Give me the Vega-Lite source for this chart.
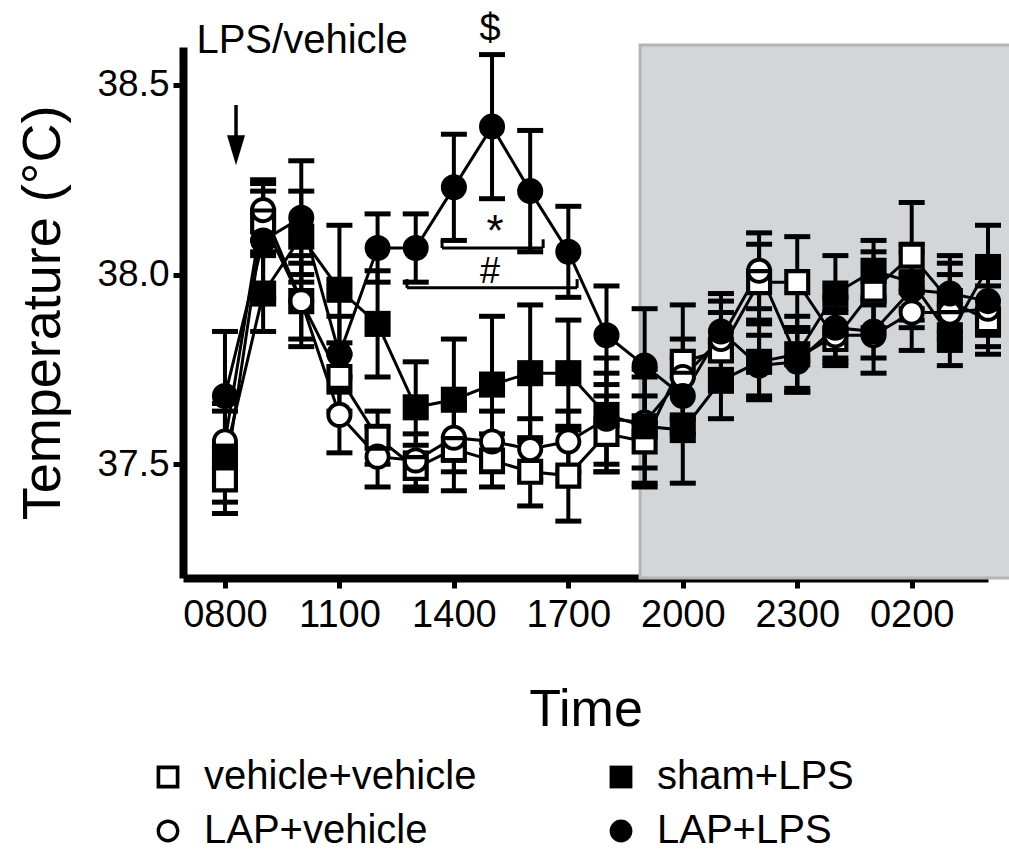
{
  "$schema": "https://vega.github.io/schema/vega-lite/v6.json",
  "width": 805,
  "height": 531,
  "autosize": {"type": "none"},
  "padding": {"left": 183, "top": 47, "right": 21, "bottom": 273},
  "background": "white",
  "config": {
    "view": {"stroke": null},
    "font": "Liberation Sans",
    "axis": {"domainWidth": 8, "domainColor": "black", "tickColor": "black", "tickWidth": 5, "tickSize": 10, "labelColor": "black", "titleColor": "black", "labelFont": "Liberation Sans", "titleFont": "Liberation Sans", "titleFontWeight": "normal", "grid": false, "zindex": 1}
  },
  "datasets": {
    "main": [
      {"s": "vehicle+vehicle", "h": 0, "m": 37.46, "lo": 37.37, "hi": 37.55},
      {"s": "vehicle+vehicle", "h": 1, "m": 38.14, "lo": 38.06, "hi": 38.22},
      {"s": "vehicle+vehicle", "h": 2, "m": 37.93, "lo": 37.81, "hi": 38.05},
      {"s": "vehicle+vehicle", "h": 3, "m": 37.73, "lo": 37.64, "hi": 37.82},
      {"s": "vehicle+vehicle", "h": 4, "m": 37.57, "lo": 37.50, "hi": 37.64},
      {"s": "vehicle+vehicle", "h": 5, "m": 37.49, "lo": 37.43, "hi": 37.55},
      {"s": "vehicle+vehicle", "h": 6, "m": 37.54, "lo": 37.43, "hi": 37.65},
      {"s": "vehicle+vehicle", "h": 7, "m": 37.51, "lo": 37.44, "hi": 37.58},
      {"s": "vehicle+vehicle", "h": 8, "m": 37.48, "lo": 37.39, "hi": 37.57},
      {"s": "vehicle+vehicle", "h": 9, "m": 37.47, "lo": 37.35, "hi": 37.59},
      {"s": "vehicle+vehicle", "h": 10, "m": 37.58, "lo": 37.48, "hi": 37.68},
      {"s": "vehicle+vehicle", "h": 11, "m": 37.56, "lo": 37.44, "hi": 37.68},
      {"s": "vehicle+vehicle", "h": 12, "m": 37.77, "lo": 37.62, "hi": 37.92},
      {"s": "vehicle+vehicle", "h": 13, "m": 37.80, "lo": 37.70, "hi": 37.90},
      {"s": "vehicle+vehicle", "h": 14, "m": 37.98, "lo": 37.88, "hi": 38.08},
      {"s": "vehicle+vehicle", "h": 15, "m": 37.98, "lo": 37.86, "hi": 38.10},
      {"s": "vehicle+vehicle", "h": 16, "m": 37.83, "lo": 37.76, "hi": 37.90},
      {"s": "vehicle+vehicle", "h": 17, "m": 37.96, "lo": 37.86, "hi": 38.06},
      {"s": "vehicle+vehicle", "h": 18, "m": 38.05, "lo": 37.91, "hi": 38.19},
      {"s": "vehicle+vehicle", "h": 19, "m": 37.93, "lo": 37.83, "hi": 38.03},
      {"s": "vehicle+vehicle", "h": 20, "m": 37.88, "lo": 37.79, "hi": 37.97},
      {"s": "LAP+vehicle", "h": 0, "m": 37.56, "lo": 37.46, "hi": 37.66},
      {"s": "LAP+vehicle", "h": 1, "m": 38.17, "lo": 38.09, "hi": 38.25},
      {"s": "LAP+vehicle", "h": 2, "m": 37.93, "lo": 37.83, "hi": 38.03},
      {"s": "LAP+vehicle", "h": 3, "m": 37.63, "lo": 37.53, "hi": 37.73},
      {"s": "LAP+vehicle", "h": 4, "m": 37.52, "lo": 37.44, "hi": 37.60},
      {"s": "LAP+vehicle", "h": 5, "m": 37.51, "lo": 37.44, "hi": 37.58},
      {"s": "LAP+vehicle", "h": 6, "m": 37.57, "lo": 37.48, "hi": 37.66},
      {"s": "LAP+vehicle", "h": 7, "m": 37.56, "lo": 37.48, "hi": 37.64},
      {"s": "LAP+vehicle", "h": 8, "m": 37.54, "lo": 37.46, "hi": 37.62},
      {"s": "LAP+vehicle", "h": 9, "m": 37.56, "lo": 37.48, "hi": 37.64},
      {"s": "LAP+vehicle", "h": 10, "m": 37.62, "lo": 37.50, "hi": 37.74},
      {"s": "LAP+vehicle", "h": 11, "m": 37.61, "lo": 37.49, "hi": 37.73},
      {"s": "LAP+vehicle", "h": 12, "m": 37.73, "lo": 37.63, "hi": 37.83},
      {"s": "LAP+vehicle", "h": 13, "m": 37.83, "lo": 37.73, "hi": 37.93},
      {"s": "LAP+vehicle", "h": 14, "m": 38.01, "lo": 37.91, "hi": 38.11},
      {"s": "LAP+vehicle", "h": 15, "m": 37.78, "lo": 37.70, "hi": 37.86},
      {"s": "LAP+vehicle", "h": 16, "m": 37.84, "lo": 37.77, "hi": 37.91},
      {"s": "LAP+vehicle", "h": 17, "m": 37.84, "lo": 37.74, "hi": 37.94},
      {"s": "LAP+vehicle", "h": 18, "m": 37.90, "lo": 37.80, "hi": 38.00},
      {"s": "LAP+vehicle", "h": 19, "m": 37.90, "lo": 37.80, "hi": 38.00},
      {"s": "LAP+vehicle", "h": 20, "m": 37.91, "lo": 37.81, "hi": 38.01},
      {"s": "sham+LPS", "h": 0, "m": 37.52, "lo": 37.40, "hi": 37.64},
      {"s": "sham+LPS", "h": 1, "m": 37.95, "lo": 37.85, "hi": 38.05},
      {"s": "sham+LPS", "h": 2, "m": 38.10, "lo": 37.98, "hi": 38.22},
      {"s": "sham+LPS", "h": 3, "m": 37.96, "lo": 37.79, "hi": 38.13},
      {"s": "sham+LPS", "h": 4, "m": 37.87, "lo": 37.73, "hi": 38.01},
      {"s": "sham+LPS", "h": 5, "m": 37.65, "lo": 37.53, "hi": 37.77},
      {"s": "sham+LPS", "h": 6, "m": 37.67, "lo": 37.51, "hi": 37.83},
      {"s": "sham+LPS", "h": 7, "m": 37.71, "lo": 37.53, "hi": 37.89},
      {"s": "sham+LPS", "h": 8, "m": 37.74, "lo": 37.56, "hi": 37.92},
      {"s": "sham+LPS", "h": 9, "m": 37.74, "lo": 37.60, "hi": 37.88},
      {"s": "sham+LPS", "h": 10, "m": 37.63, "lo": 37.48, "hi": 37.78},
      {"s": "sham+LPS", "h": 11, "m": 37.60, "lo": 37.45, "hi": 37.75},
      {"s": "sham+LPS", "h": 12, "m": 37.59, "lo": 37.45, "hi": 37.73},
      {"s": "sham+LPS", "h": 13, "m": 37.72, "lo": 37.62, "hi": 37.82},
      {"s": "sham+LPS", "h": 14, "m": 37.77, "lo": 37.67, "hi": 37.87},
      {"s": "sham+LPS", "h": 15, "m": 37.79, "lo": 37.69, "hi": 37.89},
      {"s": "sham+LPS", "h": 16, "m": 37.95, "lo": 37.85, "hi": 38.05},
      {"s": "sham+LPS", "h": 17, "m": 38.01, "lo": 37.93, "hi": 38.09},
      {"s": "sham+LPS", "h": 18, "m": 37.98, "lo": 37.88, "hi": 38.08},
      {"s": "sham+LPS", "h": 19, "m": 37.84, "lo": 37.76, "hi": 37.92},
      {"s": "sham+LPS", "h": 20, "m": 38.02, "lo": 37.91, "hi": 38.13},
      {"s": "LAP+LPS", "h": 0, "m": 37.68, "lo": 37.51, "hi": 37.85},
      {"s": "LAP+LPS", "h": 1, "m": 38.09, "lo": 37.94, "hi": 38.24},
      {"s": "LAP+LPS", "h": 2, "m": 38.15, "lo": 38.00, "hi": 38.30},
      {"s": "LAP+LPS", "h": 3, "m": 37.79, "lo": 37.69, "hi": 37.89},
      {"s": "LAP+LPS", "h": 4, "m": 38.07, "lo": 37.98, "hi": 38.16},
      {"s": "LAP+LPS", "h": 5, "m": 38.07, "lo": 37.98, "hi": 38.16},
      {"s": "LAP+LPS", "h": 6, "m": 38.23, "lo": 38.09, "hi": 38.37},
      {"s": "LAP+LPS", "h": 7, "m": 38.39, "lo": 38.20, "hi": 38.58},
      {"s": "LAP+LPS", "h": 8, "m": 38.22, "lo": 38.06, "hi": 38.38},
      {"s": "LAP+LPS", "h": 9, "m": 38.06, "lo": 37.94, "hi": 38.18},
      {"s": "LAP+LPS", "h": 10, "m": 37.84, "lo": 37.71, "hi": 37.97},
      {"s": "LAP+LPS", "h": 11, "m": 37.76, "lo": 37.61, "hi": 37.91},
      {"s": "LAP+LPS", "h": 12, "m": 37.68, "lo": 37.58, "hi": 37.78},
      {"s": "LAP+LPS", "h": 13, "m": 37.85, "lo": 37.75, "hi": 37.95},
      {"s": "LAP+LPS", "h": 14, "m": 37.76, "lo": 37.68, "hi": 37.84},
      {"s": "LAP+LPS", "h": 15, "m": 37.77, "lo": 37.69, "hi": 37.85},
      {"s": "LAP+LPS", "h": 16, "m": 37.86, "lo": 37.78, "hi": 37.94},
      {"s": "LAP+LPS", "h": 17, "m": 37.85, "lo": 37.78, "hi": 37.92},
      {"s": "LAP+LPS", "h": 18, "m": 37.96, "lo": 37.86, "hi": 38.06},
      {"s": "LAP+LPS", "h": 19, "m": 37.95, "lo": 37.85, "hi": 38.05},
      {"s": "LAP+LPS", "h": 20, "m": 37.93, "lo": 37.84, "hi": 38.02}
    ],
    "dark": [{"start": 10.88, "end": 21.5, "bottom": 37.2, "top": 38.605}],
    "labels": [
      {"t": "LPS/vehicle", "h": 2.02, "v": 38.615, "size": 40},
      {"t": "$", "h": 6.95, "v": 38.645, "size": 38},
      {"t": "*", "h": 7.08, "v": 38.11, "size": 44},
      {"t": "#", "h": 6.95, "v": 38.007, "size": 36}
    ],
    "brackets": [
      {"x1": 5.69, "x2": 8.34, "y": 38.07, "yt": 38.093},
      {"x1": 4.77, "x2": 9.23, "y": 37.965, "yt": 37.988}
    ],
    "arrow": [{"h": 0.29, "top": 38.447, "tip": 38.36, "head": 38.328}]
  },
  "layer": [
    {
      "data": {"name": "dark"},
      "mark": {"type": "rect", "fill": "#d3d6d8", "stroke": "#b3b6b8", "strokeWidth": 3, "clip": false},
      "encoding": {
        "x": {"field": "start", "type": "quantitative", "scale": {"domain": [-1.1, 20], "nice": false, "zero": false},
          "axis": {"values": [0, 3, 6, 9, 12, 15, 18], "labelExpr": "((8 + datum.value) % 24 < 10 ? '0' : '') + ((8 + datum.value) % 24) * 100", "labelFontSize": 38, "labelPadding": 8, "title": "Time", "titleFontSize": 52, "titlePadding": 50}},
        "x2": {"field": "end"},
        "y": {"field": "bottom", "type": "quantitative", "scale": {"domain": [37.2, 38.6], "nice": false, "zero": false},
          "axis": {"values": [37.5, 38.0, 38.5], "format": ".1f", "labelFontSize": 37, "labelPadding": 4, "title": "Temperature (°C)", "titleFontSize": 54, "titlePadding": 26}},
        "y2": {"field": "top"}
      }
    },
    {
      "data": {"name": "main"},
      "mark": {"type": "rule", "color": "black", "strokeWidth": 4},
      "encoding": {
        "x": {"field": "h", "type": "quantitative"},
        "y": {"field": "lo", "type": "quantitative"},
        "y2": {"field": "hi"}
      }
    },
    {
      "data": {"name": "main"},
      "mark": {"type": "tick", "color": "black", "orient": "horizontal", "size": 26, "thickness": 5, "opacity": 1},
      "encoding": {
        "x": {"field": "h", "type": "quantitative"},
        "y": {"field": "lo", "type": "quantitative"}
      }
    },
    {
      "data": {"name": "main"},
      "mark": {"type": "tick", "color": "black", "orient": "horizontal", "size": 26, "thickness": 5, "opacity": 1},
      "encoding": {
        "x": {"field": "h", "type": "quantitative"},
        "y": {"field": "hi", "type": "quantitative"}
      }
    },
    {
      "data": {"name": "main"},
      "mark": {"type": "line", "color": "black", "strokeWidth": 3},
      "encoding": {
        "x": {"field": "h", "type": "quantitative"},
        "y": {"field": "m", "type": "quantitative"},
        "detail": {"field": "s"}
      }
    },
    {
      "data": {"name": "main"},
      "transform": [{"filter": "datum.s == 'vehicle+vehicle'"}],
      "mark": {"type": "point", "shape": "square", "filled": true, "color": "white", "size": 630, "opacity": 1, "strokeWidth": 0},
      "encoding": {
        "x": {"field": "h", "type": "quantitative"},
        "y": {"field": "m", "type": "quantitative"}
      }
    },
    {
      "data": {"name": "main"},
      "transform": [{"filter": "datum.s == 'LAP+vehicle'"}],
      "mark": {"type": "point", "shape": "circle", "filled": true, "color": "white", "size": 630, "opacity": 1, "strokeWidth": 0},
      "encoding": {
        "x": {"field": "h", "type": "quantitative"},
        "y": {"field": "m", "type": "quantitative"}
      }
    },
    {
      "data": {"name": "main"},
      "mark": {"type": "point", "filled": true, "color": "black", "size": 680, "opacity": 1, "strokeWidth": 0},
      "encoding": {
        "x": {"field": "h", "type": "quantitative"},
        "y": {"field": "m", "type": "quantitative"},
        "shape": {"field": "s", "type": "nominal",
          "scale": {"domain": ["vehicle+vehicle", "LAP+vehicle", "sham+LPS", "LAP+LPS"],
            "range": ["M-1,-1H1V1H-1Z M-0.68,-0.68V0.68H0.68V-0.68Z", "M-1,0A1,1,0,1,1,1,0A1,1,0,1,1,-1,0Z M-0.7,0A0.7,0.7,0,1,0,0.7,0A0.7,0.7,0,1,0,-0.7,0Z", "square", "circle"]},
          "legend": {"title": null, "orient": "none", "legendX": -35, "legendY": 710, "columns": 2, "columnPadding": 124, "rowPadding": 14, "symbolSize": 520, "symbolFillColor": "black", "symbolStrokeWidth": 0, "labelFontSize": 40, "labelFont": "Liberation Sans", "labelColor": "black", "labelOffset": 16, "labelLimit": 400}}
      }
    },
    {
      "data": {"name": "brackets"},
      "mark": {"type": "rule", "color": "black", "strokeWidth": 3},
      "encoding": {
        "x": {"field": "x1", "type": "quantitative"},
        "x2": {"field": "x2"},
        "y": {"field": "y", "type": "quantitative"}
      }
    },
    {
      "data": {"name": "brackets"},
      "mark": {"type": "rule", "color": "black", "strokeWidth": 3},
      "encoding": {
        "x": {"field": "x1", "type": "quantitative"},
        "y": {"field": "y", "type": "quantitative"},
        "y2": {"field": "yt"}
      }
    },
    {
      "data": {"name": "brackets"},
      "mark": {"type": "rule", "color": "black", "strokeWidth": 3},
      "encoding": {
        "x": {"field": "x2", "type": "quantitative"},
        "y": {"field": "y", "type": "quantitative"},
        "y2": {"field": "yt"}
      }
    },
    {
      "data": {"name": "arrow"},
      "mark": {"type": "rule", "color": "black", "strokeWidth": 3.5, "clip": false},
      "encoding": {
        "x": {"field": "h", "type": "quantitative"},
        "y": {"field": "top", "type": "quantitative"},
        "y2": {"field": "tip"}
      }
    },
    {
      "data": {"name": "arrow"},
      "mark": {"type": "point", "shape": "M-0.6,-1L0.6,-1L0,1Z", "filled": true, "color": "black", "size": 900, "opacity": 1},
      "encoding": {
        "x": {"field": "h", "type": "quantitative"},
        "y": {"field": "head", "type": "quantitative"}
      }
    },
    {
      "data": {"name": "labels"},
      "mark": {"type": "text", "color": "black", "font": "Liberation Sans", "baseline": "middle", "align": "center"},
      "encoding": {
        "x": {"field": "h", "type": "quantitative"},
        "y": {"field": "v", "type": "quantitative"},
        "text": {"field": "t"},
        "size": {"field": "size", "type": "quantitative", "scale": null}
      }
    }
  ]
}
